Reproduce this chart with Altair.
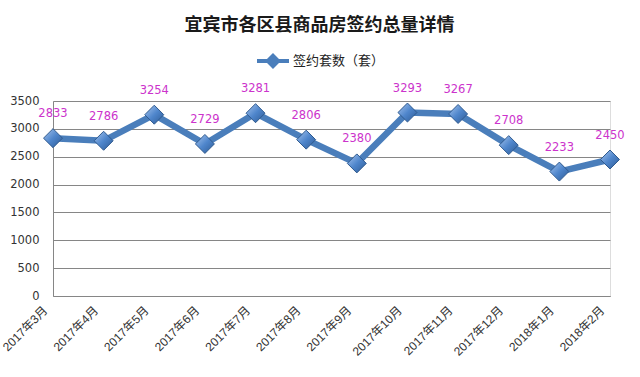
import altair as alt
import pandas as pd

months = ["2017年3月", "2017年4月", "2017年5月", "2017年6月", "2017年7月", "2017年8月",
          "2017年9月", "2017年10月", "2017年11月", "2017年12月", "2018年1月", "2018年2月"]
values = [2833, 2786, 3254, 2729, 3281, 2806, 2380, 3293, 3267, 2708, 2233, 2450]
series = ["签约套数（套）"] * len(months)

df = pd.DataFrame({"month": months, "value": values, "series": series})

FONT = "Noto Sans CJK SC"
XFONT = "Liberation Sans, Noto Sans CJK SC"
BLUE = "#4A7EBB"

x = alt.X("month:N", sort=months, title=None,
          scale=alt.Scale(type="point", padding=0),
          axis=alt.Axis(labelAngle=315, labelAlign="right", labelBaseline="middle",
                        labelPadding=12, labelOffset=-8, labelFont=XFONT, labelFontSize=12,
                        labelColor="#333333", domainColor="#868686", ticks=False,
                        grid=False, labelOverlap=False))
y = alt.Y("value:Q", title=None,
          scale=alt.Scale(domain=[0, 3500], nice=False),
          axis=alt.Axis(values=list(range(0, 3501, 500)), format="d", labelFont="DejaVu Sans",
                        labelFontSize=11.5, labelColor="#333333", labelPadding=14,
                        domainColor="#868686", ticks=False, gridColor="#868686",
                        gridWidth=1))

base = alt.Chart(df)

line = base.mark_line(strokeWidth=6.5, color=BLUE).encode(
    x=x, y=y,
    color=alt.Color("series:N", scale=alt.Scale(range=[BLUE]),
                    legend=alt.Legend(title=None, orient="none", legendX=202, legendY=-58,
                                      symbolType="M-1,0H1M-0.32,0L0,-0.32L0.32,0L0,0.32Z",
                                      symbolSize=1024, symbolStrokeWidth=4,
                                      symbolStrokeColor=BLUE, symbolFillColor=BLUE,
                                      labelFont=FONT, labelFontSize=13,
                                      labelColor="#222222", labelOffset=2)),
)

pts = base.mark_point(
    shape="diamond", size=360, filled=True, opacity=1,
    fill=alt.LinearGradient(gradient="linear", x1=0, y1=0, x2=1, y2=1,
                            stops=[alt.GradientStop(offset=0, color="#A9C6EE"),
                                   alt.GradientStop(offset=0.5, color="#4F86CC"),
                                   alt.GradientStop(offset=1, color="#2D5A94")]),
    stroke="#2F5A8F", strokeWidth=1,
).encode(x=x, y=y)

labels = base.mark_text(font="DejaVu Sans", fontSize=11.5, color="#CC33CC",
                        dy=-24, baseline="middle").encode(x=x, y=y, text="value:Q")

chart = alt.layer(line, pts, labels).properties(
    width=557, height=195,
    padding={"left": 53, "top": 101, "right": 30, "bottom": 81},
    autosize=alt.AutoSizeParams(type="none"),
    title=alt.TitleParams("宜宾市各区县商品房签约总量详情", font=FONT, fontSize=18,
                          fontWeight="bold", color="#1a1a1a", anchor="middle",
                          dx=-12, offset=8),
).configure_view(stroke=None).configure(background="white")

chart.save("out.html", embed_options={"renderer": "svg", "actions": False})
